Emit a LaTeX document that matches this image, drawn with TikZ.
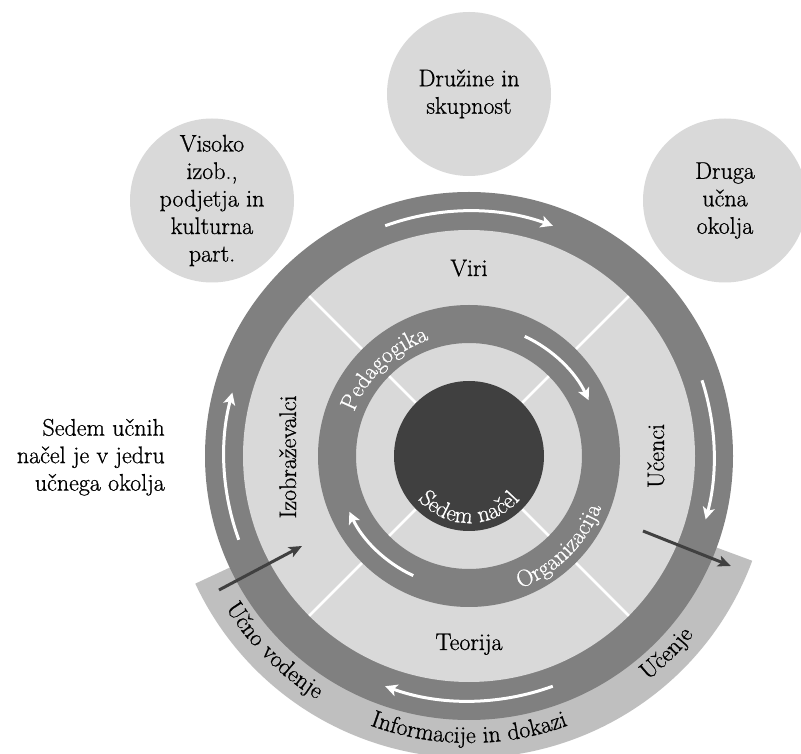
\documentclass[tikz,border=0pt]{standalone}
\usepackage{fontspec}
\setmainfont{Latin Modern Roman}[FakeBold=0.8]
\usetikzlibrary{arrows.meta,decorations.text}
\definecolor{ringgray}{HTML}{808080}
\definecolor{softgray}{HTML}{D9D9D9}
\definecolor{bandgray}{HTML}{BFBFBF}
\definecolor{darkcore}{HTML}{404040}
\newcommand{\bigfont}{\fontsize{24}{27.5}\selectfont}
\newcommand{\whitefont}{\fontsize{23.5}{27.5}\selectfont\color{white}}
\begin{document}
\begin{tikzpicture}[x=1pt,y=1pt,
  bubble/.style={circle, fill=softgray, minimum size=164pt, inner sep=0pt},
  bubbletext/.style={align=center, font=\bigfont, inner sep=0pt},
  ringlabel/.style={font=\bigfont, inner sep=0pt},
  whitearrow/.style={draw=white, line width=3pt, -{Stealth[length=12pt,width=12pt,inset=3pt]}},
  darkarrow/.style={draw=darkcore, line width=3pt, -{Stealth[length=13pt,width=11pt,inset=3pt]}},
  divider/.style={draw=white, line width=2.5pt},
]
\clip (0,0) rectangle (801,753);
\fill[white] (0,0) rectangle (801,753);
\coordinate (C) at (469,297);

% outer bubbles
\node[bubble] (fam) at (469,659) {};
\node[bubbletext] (famtext) at (fam.center) {Družine in\\skupnost};
\node[bubble] (uni) at (212,552.5) {};
\node[bubbletext] (unitext) at (uni.center) {Visoko\\izob.,\\podjetja in\\kulturna\\part.};
\node[bubble] (other) at (725,552.5) {};
\node[bubbletext] (othertext) at (other.center) {Druga\\učna\\okolja};

% side note
\node[bubbletext, align=right, anchor=east] (note) at (165,295.8) {Sedem učnih\\načel je v jedru\\učnega okolja};

% bottom band
\fill[bandgray] ([shift={(205:230pt)}]C) arc[start angle=205,end angle=339.7,radius=230pt]
  -- ([shift={(339.7:302pt)}]C) arc[start angle=339.7,end angle=205,radius=302pt] -- cycle;

% outer ring and light area
\fill[ringgray] (C) circle (264pt);
\fill[softgray] (C) circle (226pt);
\foreach \a in {45,135,225,315} \draw[divider] (C) -- ([shift={(\a:226pt)}]C);

% middle ring
\fill[ringgray, even odd rule] (C) circle (151pt) (C) circle (113pt);
% core
\fill[darkcore] (C) circle (75pt);

% outer ring arrows
\draw[whitearrow] ([shift={(110:245pt)}]C) arc[start angle=110,end angle=70,radius=245pt];
\draw[whitearrow] ([shift={(18:245pt)}]C) arc[start angle=18,end angle=-15,radius=245pt];
\draw[whitearrow] ([shift={(-70:245pt)}]C) arc[start angle=-70,end angle=-110,radius=245pt];
\draw[whitearrow] ([shift={(200:245pt)}]C) arc[start angle=200,end angle=165,radius=245pt];

% middle ring arrows
\draw[whitearrow] ([shift={(65:132pt)}]C) arc[start angle=65,end angle=25,radius=132pt];
\draw[whitearrow] ([shift={(245:132pt)}]C) arc[start angle=245,end angle=205,radius=132pt];

% labels in the light ring
\node[ringlabel, anchor=base] (viri) at (469,477) {Viri};
\node[ringlabel, anchor=base] (teorija) at (469,103) {Teorija};
\node[ringlabel, anchor=base, rotate=90] (izo) at (296,296) {Izobraževalci};
\node[ringlabel, anchor=base, rotate=90] (ucenci) at (664,297) {Učenci};

% curved texts
\path[decorate, decoration={text along path, text align=center, text={|\whitefont|Pedagogika}}]
  ([shift={(184:123pt)}]C) arc[start angle=184,end angle=84,radius=123pt];
\path[decorate, decoration={text along path, text align=center, text={|\whitefont|Organizacija}}]
  ([shift={(265:142pt)}]C) arc[start angle=265,end angle=365,radius=142pt];
\path[decorate, decoration={text along path, text align=center, text={|\whitefont|Sedem načel}}]
  ([shift={(190:67pt)}]C) arc[start angle=190,end angle=350,radius=67pt];
\path[decorate, decoration={text along path, text align=center, text={|\bigfont|Učno vodenje}}]
  ([shift={(175:287pt)}]C) arc[start angle=175,end angle=275,radius=287pt];
\path[decorate, decoration={text along path, text align=center, text={|\bigfont|Informacije in dokazi}}]
  ([shift={(220:287pt)}]C) arc[start angle=220,end angle=320,radius=287pt];
\path[decorate, decoration={text along path, text align=center, text={|\bigfont|Učenje}}]
  ([shift={(280:287pt)}]C) arc[start angle=280,end angle=350,radius=287pt];

% dark arrows
\coordinate (inL) at (219,163);
\coordinate (inR) at (302,207);
\coordinate (outL) at (643,222);
\coordinate (outR) at (731,187);
\draw[darkarrow] (inL) -- (inR);
\draw[darkarrow] (outL) -- (outR);
\end{tikzpicture}
\end{document}
